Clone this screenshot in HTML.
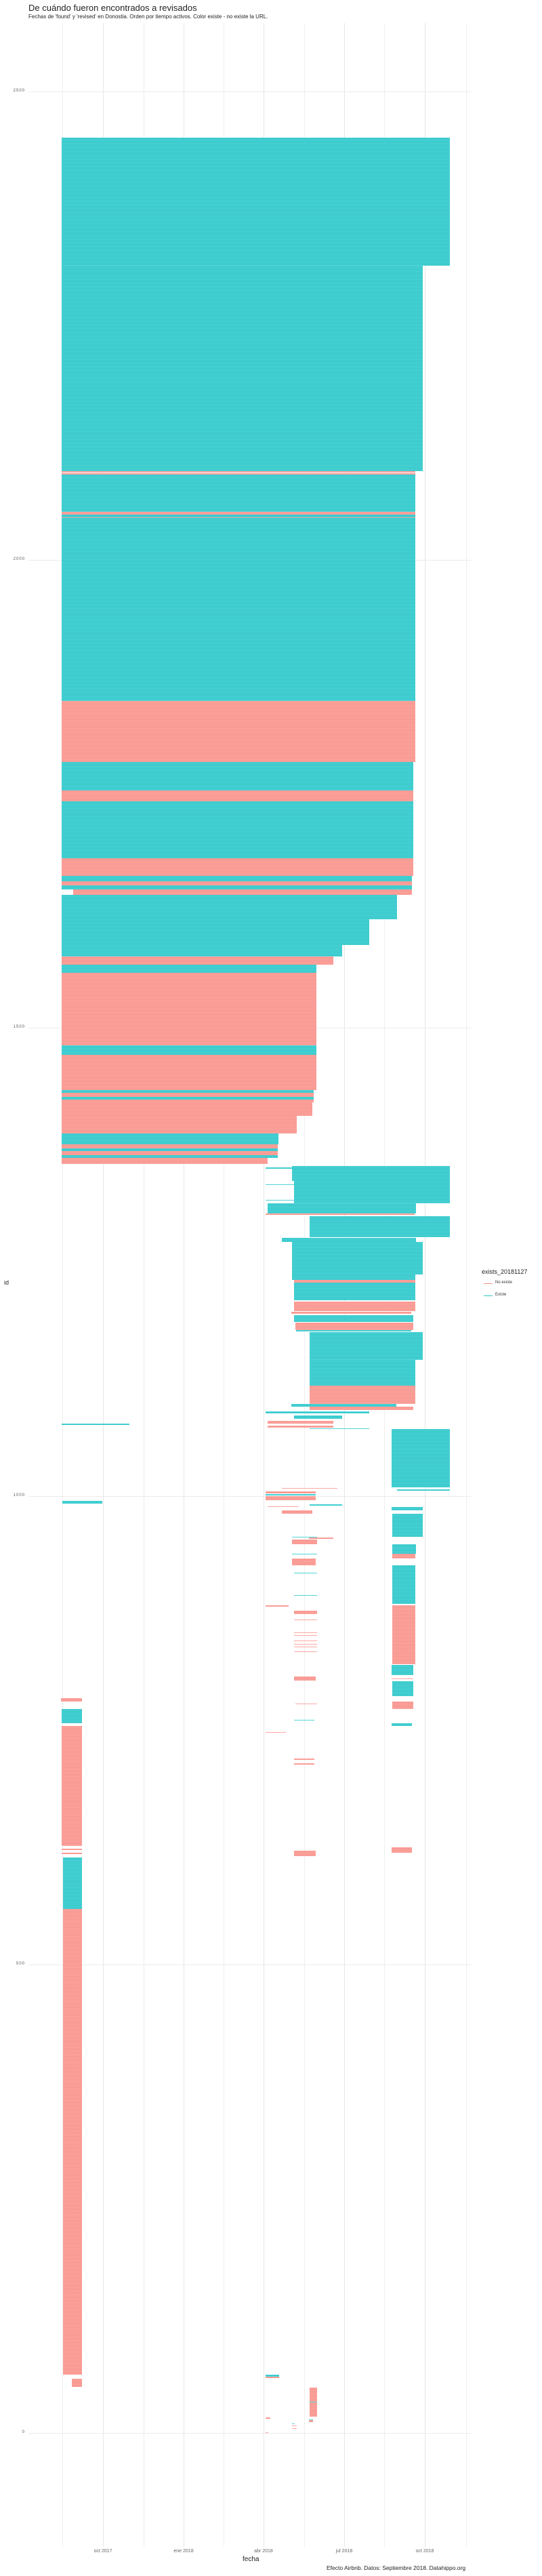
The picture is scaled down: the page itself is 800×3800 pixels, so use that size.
<!DOCTYPE html>
<html><head><meta charset="utf-8"><style>
body{margin:0;width:800px;height:3800px;background:#fff;position:relative;overflow:hidden;font-family:"Liberation Sans",sans-serif;}
div{position:absolute;}
.gv{width:1px;top:34px;height:3723px;background:#efefef;}
.gm{background:#e6e6e6;}
.gh{height:1px;left:42px;width:653px;background:#ebebeb;}
.c{background:repeating-linear-gradient(to bottom,#55d3d6 0,#55d3d6 1px,#2cc7ca 1px,#2cc7ca 2px);}
.p{background:repeating-linear-gradient(to bottom,#fba9a3 0,#fba9a3 1px,#f8918a 1px,#f8918a 2px);}
.yl{left:10px;width:27px;text-align:right;font-size:6px;color:#555;letter-spacing:1px;}
.xl{top:3760px;font-size:7px;color:#666;width:60px;text-align:center;}
</style></head><body>
<div style="left:42px;top:4px;font-size:13px;color:#222;">De cuándo fueron encontrados a revisados</div>
<div style="left:42px;top:20px;font-size:8px;color:#222;white-space:nowrap;">Fechas de 'found' y 'revised' en Donostia. Orden por tiempo activos. Color existe - no existe la URL.</div>

<div class="gv" style="left:92px"></div><div class="gv gm" style="left:152px"></div>
<div class="gv" style="left:212px"></div><div class="gv gm" style="left:271px"></div>
<div class="gv" style="left:330px"></div><div class="gv gm" style="left:389px"></div>
<div class="gv" style="left:449px"></div><div class="gv gm" style="left:508px"></div>
<div class="gv" style="left:567px"></div><div class="gv gm" style="left:627px"></div>
<div class="gv" style="left:688px"></div>
<div class="gh" style="top:135px"></div><div class="gh" style="top:826px"></div>
<div class="gh" style="top:1516px"></div><div class="gh" style="top:2207px"></div>
<div class="gh" style="top:2898px"></div><div class="gh" style="top:3589px"></div>
<div class="yl" style="top:131px">2500</div><div class="yl" style="top:822px">2000</div>
<div class="yl" style="top:1512px">1500</div><div class="yl" style="top:2203px">1000</div>
<div class="yl" style="top:2894px">500</div><div class="yl" style="top:3585px">0</div>
<div style="left:6px;top:1887px;font-size:9px;color:#222;">id</div>

<!-- main left block -->
<div class="c" style="left:91px;top:203px;width:573px;height:189px"></div>
<div class="c" style="left:91px;top:392px;width:533px;height:303px"></div>
<div class="p" style="left:91px;top:695px;width:522px;height:2px"></div>
<div class="p" style="left:91px;top:698px;width:522px;height:2px"></div>
<div class="c" style="left:91px;top:700px;width:522px;height:55px"></div>
<div class="p" style="left:91px;top:755px;width:522px;height:4px"></div>
<div class="c" style="left:91px;top:759px;width:522px;height:275px"></div>
<div class="p" style="left:91px;top:763px;width:522px;height:1px"></div>
<div class="p" style="left:91px;top:1034px;width:522px;height:90px"></div>
<div class="c" style="left:91px;top:1124px;width:519px;height:42px"></div>
<div class="p" style="left:91px;top:1166px;width:519px;height:16px"></div>
<div class="c" style="left:91px;top:1182px;width:519px;height:84px"></div>
<div class="p" style="left:91px;top:1266px;width:519px;height:26px"></div>
<div class="c" style="left:91px;top:1292px;width:517px;height:8px"></div>
<div class="p" style="left:91px;top:1300px;width:517px;height:6px"></div>
<div class="c" style="left:91px;top:1306px;width:517px;height:6px"></div>
<div class="p" style="left:108px;top:1312px;width:500px;height:8px"></div>
<div class="c" style="left:91px;top:1320px;width:495px;height:36px"></div>
<div class="c" style="left:91px;top:1356px;width:454px;height:38px"></div>
<div class="c" style="left:91px;top:1394px;width:414px;height:17px"></div>
<div class="p" style="left:91px;top:1411px;width:401px;height:12px"></div>
<div class="c" style="left:91px;top:1423px;width:376px;height:12px"></div>
<div class="p" style="left:91px;top:1435px;width:376px;height:107px"></div>
<div class="c" style="left:91px;top:1542px;width:376px;height:14px"></div>
<div class="p" style="left:91px;top:1556px;width:376px;height:52px"></div>
<div class="c" style="left:91px;top:1608px;width:372px;height:4px"></div>
<div class="p" style="left:91px;top:1612px;width:372px;height:6px"></div>
<div class="c" style="left:91px;top:1618px;width:372px;height:4px"></div>
<div class="p" style="left:91px;top:1622px;width:372px;height:4px"></div>
<div class="p" style="left:91px;top:1626px;width:370px;height:20px"></div>
<div class="p" style="left:91px;top:1646px;width:347px;height:26px"></div>
<div class="c" style="left:91px;top:1672px;width:320px;height:16px"></div>
<div class="p" style="left:91px;top:1688px;width:319px;height:6px"></div>
<div class="c" style="left:91px;top:1694px;width:319px;height:4px"></div>
<div class="p" style="left:91px;top:1698px;width:319px;height:6px"></div>
<div class="c" style="left:91px;top:1704px;width:319px;height:4px"></div>
<div class="p" style="left:91px;top:1708px;width:304px;height:9px"></div>

<!-- right cluster -->
<div class="c" style="left:431px;top:1720px;width:233px;height:22px"></div>
<div class="c" style="left:392px;top:1722px;width:39px;height:2px"></div>
<div class="c" style="left:434px;top:1742px;width:230px;height:33px"></div>
<div class="c" style="left:392px;top:1747px;width:42px;height:1px"></div>
<div class="c" style="left:392px;top:1770px;width:42px;height:1px"></div>
<div class="c" style="left:395px;top:1775px;width:219px;height:15px"></div>
<div class="p" style="left:392px;top:1790px;width:220px;height:2px"></div>
<div class="c" style="left:457px;top:1794px;width:207px;height:31px"></div>
<div class="c" style="left:416px;top:1826px;width:198px;height:6px"></div>
<div class="c" style="left:431px;top:1832px;width:193px;height:48px"></div>
<div class="c" style="left:431px;top:1880px;width:182px;height:8px"></div>
<div class="p" style="left:434px;top:1888px;width:179px;height:4px"></div>
<div class="c" style="left:434px;top:1892px;width:179px;height:26px"></div>
<div class="p" style="left:434px;top:1920px;width:179px;height:14px"></div>
<div class="p" style="left:430px;top:1935px;width:177px;height:3px"></div>
<div class="c" style="left:434px;top:1940px;width:176px;height:10px"></div>
<div class="p" style="left:436px;top:1951px;width:174px;height:11px"></div>
<div class="c" style="left:437px;top:1962px;width:170px;height:2px"></div>
<div class="c" style="left:457px;top:1965px;width:167px;height:41px"></div>
<div class="c" style="left:457px;top:2006px;width:156px;height:38px"></div>
<div class="p" style="left:457px;top:2044px;width:156px;height:27px"></div>
<div class="c" style="left:430px;top:2071px;width:155px;height:4px"></div>
<div class="p" style="left:457px;top:2075px;width:153px;height:5px"></div>
<div class="c" style="left:392px;top:2082px;width:153px;height:3px"></div>
<div class="c" style="left:434px;top:2088px;width:71px;height:5px"></div>
<div class="p" style="left:395px;top:2096px;width:97px;height:4px"></div>
<div class="p" style="left:395px;top:2103px;width:97px;height:3px"></div>
<div class="c" style="left:457px;top:2107px;width:88px;height:1px"></div>
<div class="c" style="left:91px;top:2100px;width:100px;height:2px"></div>
<div class="c" style="left:578px;top:2108px;width:86px;height:86px"></div>
<div class="p" style="left:416px;top:2195px;width:82px;height:1px"></div>
<div class="c" style="left:586px;top:2197px;width:78px;height:2px"></div>
<div class="p" style="left:392px;top:2200px;width:74px;height:3px"></div>
<div class="c" style="left:392px;top:2204px;width:74px;height:2px"></div>
<div class="p" style="left:392px;top:2207px;width:74px;height:6px"></div>
<div class="c" style="left:92px;top:2214px;width:59px;height:4px"></div>
<div class="c" style="left:457px;top:2219px;width:48px;height:2px"></div>
<div class="p" style="left:395px;top:2222px;width:46px;height:1px"></div>
<div class="c" style="left:578px;top:2223px;width:46px;height:5px"></div>
<div class="p" style="left:416px;top:2228px;width:45px;height:5px"></div>
<div class="c" style="left:579px;top:2233px;width:45px;height:34px"></div>
<div class="c" style="left:431px;top:2267px;width:37px;height:1px"></div>
<div class="p" style="left:456px;top:2268px;width:36px;height:2px"></div>
<div class="p" style="left:431px;top:2271px;width:37px;height:7px"></div>
<div class="c" style="left:579px;top:2278px;width:35px;height:14px"></div>
<div class="p" style="left:579px;top:2292px;width:34px;height:7px"></div>
<div class="c" style="left:431px;top:2292px;width:37px;height:1px"></div>
<div class="p" style="left:431px;top:2299px;width:35px;height:10px"></div>
<div class="c" style="left:579px;top:2309px;width:34px;height:57px"></div>
<div class="c" style="left:434px;top:2320px;width:34px;height:1px"></div>
<div class="c" style="left:434px;top:2353px;width:34px;height:1px"></div>
<div class="p" style="left:392px;top:2368px;width:34px;height:2px"></div>
<div class="p" style="left:579px;top:2368px;width:34px;height:87px"></div>
<div class="p" style="left:434px;top:2376px;width:34px;height:5px"></div>
<div class="p" style="left:434px;top:2389px;width:34px;height:1px"></div>
<div class="p" style="left:434px;top:2408px;width:34px;height:1px"></div>
<div class="p" style="left:434px;top:2412px;width:34px;height:1px"></div>
<div class="p" style="left:434px;top:2420px;width:34px;height:1px"></div>
<div class="p" style="left:434px;top:2425px;width:34px;height:1px"></div>
<div class="p" style="left:434px;top:2429px;width:34px;height:1px"></div>
<div class="p" style="left:434px;top:2436px;width:34px;height:1px"></div>
<div class="c" style="left:578px;top:2456px;width:32px;height:15px"></div>
<div class="p" style="left:434px;top:2473px;width:32px;height:6px"></div>
<div class="p" style="left:578px;top:2476px;width:32px;height:1px"></div>
<div class="c" style="left:579px;top:2480px;width:31px;height:22px"></div>
<div class="p" style="left:579px;top:2510px;width:31px;height:11px"></div>
<div class="p" style="left:436px;top:2513px;width:32px;height:1px"></div>
<div class="c" style="left:434px;top:2537px;width:30px;height:1px"></div>
<div class="c" style="left:578px;top:2542px;width:30px;height:4px"></div>
<div class="p" style="left:392px;top:2555px;width:30px;height:1px"></div>
<div class="p" style="left:434px;top:2594px;width:30px;height:2px"></div>
<div class="p" style="left:434px;top:2601px;width:30px;height:2px"></div>
<div class="p" style="left:578px;top:2725px;width:30px;height:8px"></div>
<div class="p" style="left:434px;top:2730px;width:32px;height:8px"></div>

<!-- lower left column -->
<div class="p" style="left:90px;top:2505px;width:31px;height:5px"></div>
<div class="c" style="left:91px;top:2521px;width:30px;height:21px"></div>
<div class="p" style="left:91px;top:2546px;width:30px;height:177px"></div>
<div class="p" style="left:91px;top:2727px;width:30px;height:2px"></div>
<div class="p" style="left:91px;top:2733px;width:30px;height:2px"></div>
<div class="c" style="left:93px;top:2740px;width:28px;height:76px"></div>
<div class="p" style="left:93px;top:2816px;width:28px;height:687px"></div>
<div class="p" style="left:106px;top:3509px;width:15px;height:12px"></div>
<div class="c" style="left:392px;top:3503px;width:20px;height:3px"></div>
<div class="p" style="left:392px;top:3506px;width:20px;height:2px"></div>
<div class="p" style="left:457px;top:3522px;width:11px;height:43px"></div>
<div class="c" style="left:457px;top:3543px;width:11px;height:1px"></div>
<div class="p" style="left:392px;top:3566px;width:7px;height:2px"></div>
<div class="c" style="left:456px;top:3569px;width:6px;height:1px"></div>
<div class="p" style="left:456px;top:3570px;width:6px;height:3px"></div>
<div class="c" style="left:431px;top:3575px;width:4px;height:1px"></div>
<div class="p" style="left:431px;top:3578px;width:7px;height:1px"></div>
<div class="p" style="left:431px;top:3582px;width:7px;height:1px"></div>
<div class="p" style="left:392px;top:3588px;width:4px;height:1px"></div>

<!-- legend -->
<div style="left:711px;top:1871px;font-size:9px;color:#222;white-space:nowrap;">exists_20181127</div>
<div style="left:714px;top:1893px;width:13px;height:1px;background:#f8918a;"></div>
<div style="left:731px;top:1889px;font-size:6px;color:#333;">No existe</div>
<div style="left:714px;top:1911px;width:13px;height:1px;background:#2cc7ca;"></div>
<div style="left:731px;top:1907px;font-size:6px;color:#333;">Existe</div>

<!-- x axis -->
<div class="xl" style="left:122px">oct 2017</div>
<div class="xl" style="left:241px">ene 2018</div>
<div class="xl" style="left:359px">abr 2018</div>
<div class="xl" style="left:478px">jul 2018</div>
<div class="xl" style="left:597px">oct 2018</div>
<div style="left:358px;top:3770px;font-size:10px;color:#222;">fecha</div>
<div style="left:482px;top:3783px;font-size:8.5px;color:#222;white-space:nowrap;">Efecto Airbnb. Datos: Septiembre 2018. Datahippo.org</div>
</body></html>
